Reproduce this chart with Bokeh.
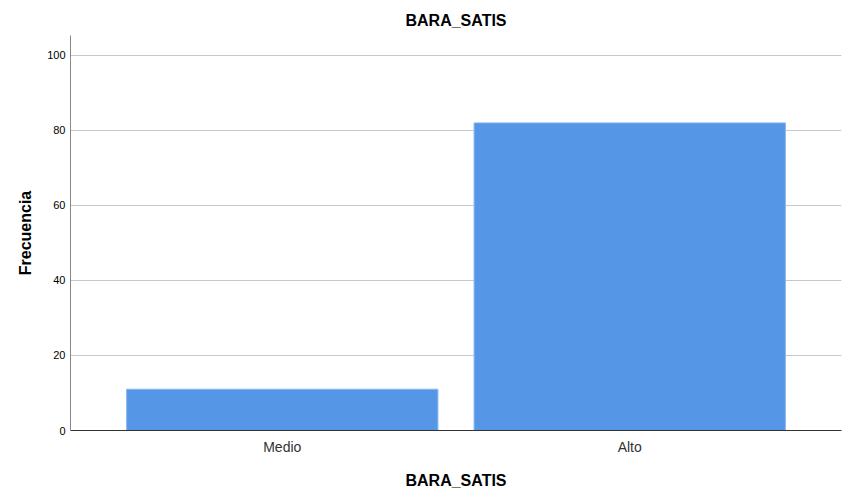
from bokeh.plotting import figure
from bokeh.models import FactorRange, Range1d, ColumnDataSource, FixedTicker
from bokeh.embed import file_html
from bokeh.resources import INLINE

categories = ["Medio", "Alto"]
frecuencia = [11, 82]
y_ticks = [0, 20, 40, 60, 80, 100]

src = ColumnDataSource(dict(cat=categories, val=frecuencia))

p = figure(width=843, height=493, output_backend="svg", toolbar_location=None,
           x_range=FactorRange(factors=categories, range_padding=0.1095),
           y_range=Range1d(0, 105.3),
           min_border_left=70, min_border_right=2, min_border_top=35, min_border_bottom=63)

p.vbar(x="cat", top="val", width=0.896, source=src,
       fill_color="#5596e6", line_color="#8ab6ee", line_width=1)

p.title.text = "BARA_SATIS"
p.title.align = "center"
p.title.text_font = "Liberation Sans"
p.title.text_font_size = "16px"
p.title.text_font_style = "bold"
p.title.text_color = "#000000"
p.title.offset = 0
p.title.standoff = 14

p.outline_line_color = None
p.background_fill_color = "white"
p.border_fill_color = "white"

p.xgrid.grid_line_color = None
p.ygrid.grid_line_color = "#c8c8c8"
p.ygrid.grid_line_width = 1
p.ygrid.ticker = FixedTicker(ticks=y_ticks)

p.yaxis.ticker = FixedTicker(ticks=y_ticks)
p.yaxis.axis_label = "Frecuencia"
p.xaxis.axis_label = "BARA_SATIS"
for ax in (p.xaxis, p.yaxis):
    ax.axis_label_text_font = "Liberation Sans"
    ax.axis_label_text_font_size = "16px"
    ax.axis_label_text_font_style = "bold"
    ax.axis_label_text_color = "#000000"
    ax.major_label_text_font = "Liberation Sans"
    ax.major_tick_line_color = None
    ax.minor_tick_line_color = None
    ax.major_tick_out = 0
    ax.major_tick_in = 0

p.yaxis.major_label_text_font_size = "11px"
p.yaxis.major_label_text_color = "#000000"
p.yaxis.axis_line_color = "#888888"
p.yaxis.major_label_standoff = 5
p.yaxis.axis_label_standoff = 10

p.xaxis.major_label_text_font_size = "14px"
p.xaxis.major_label_text_color = "#333333"
p.xaxis.axis_line_color = "#333333"
p.xaxis.major_label_standoff = 8
p.xaxis.axis_label_standoff = 14

open("out.html", "w").write(file_html(p, INLINE))
